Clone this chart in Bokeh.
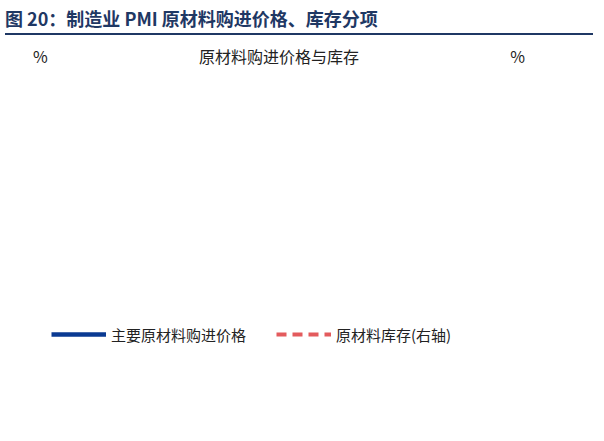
from bokeh.plotting import figure
from bokeh.models import Div, LinearAxis, Range1d, Legend, LegendItem, FixedTicker
from bokeh.layouts import column
from bokeh.embed import file_html
from bokeh.resources import INLINE

months = list(range(45))
year_ticks = [0, 12, 24, 36]
year_labels = ["2023", "2024", "2025", "2026"]
price = [52.0, 52.3, 54.5, 51.3, 47.4, 40.9, 44.9, 52.7, 56.4, 59.4, 52.7, 50.8,
         51.5, 50.5, 50.0, 50.5, 54.0, 57.0, 51.8, 49.8, 43.4, 45.1, 53.4, 49.5,
         48.2, 49.5, 50.8, 49.8, 47.0, 47.0, 48.3, 51.5, 53.3, 53.2, 52.5, 53.6,
         53.1, 56.2, 54.8, 64.1, 63.8, 60.6, 54.2, 53.2, 56.7]
stock = [48.09, 49.63, 49.77, 48.65, 48.02, 47.66, 47.42, 48.23, 48.40, 48.47, 48.23, 48.02,
         47.74, 47.59, 47.45, 48.09, 48.09, 47.81, 47.63, 47.74, 47.59, 47.74, 48.16, 48.23,
         48.30, 47.66, 47.03, 47.17, 47.03, 47.45, 48.02, 47.70, 47.98, 48.47, 47.31, 47.31,
         47.74, 47.45, 47.53, 47.74, 49.28, 48.58, 48.37, 48.30, 48.09]

FONT = "Noto Sans CJK SC"
AX = "#8EA9C8"

title = Div(text="图 20：制造业 PMI 原材料购进价格、库存分项", width=588, height=30,
            styles={"font-family": FONT, "font-size": "18px", "font-weight": "bold",
                    "color": "#1F3864", "border-bottom": "2px solid #1F3864",
                    "width": "588px", "padding-bottom": "2px", "line-height": "26px"})
sub = Div(text="<div style='display:flex;justify-content:space-between;width:550px;padding:0 30px 0 28px'>"
               "<span>%</span><span>原材料购进价格与库存</span><span>%</span></div>",
          width=588, height=26,
          styles={"font-family": FONT, "font-size": "16px", "color": "#222"})

p = figure(frame_width=457, frame_height=237, output_backend="svg", toolbar_location=None,
           x_range=Range1d(-0.3, 44.5), y_range=Range1d(40, 75),
           min_border_left=47, min_border_right=84, min_border_top=4, min_border_bottom=26)
p.extra_y_ranges = {"r": Range1d(45, 50)}
p.grid.visible = False
p.outline_line_color = None

b = p.line(months, price, line_color="#0A3A92", line_width=4.5)
r = p.line(months, stock, line_color="#E35B5D", line_width=4, line_dash="10 6", y_range_name="r")

ra = LinearAxis(y_range_name="r", ticker=FixedTicker(ticks=[45, 46, 47, 48, 49, 50]))
p.add_layout(ra, "right")
p.yaxis[0].ticker = FixedTicker(ticks=[40, 45, 50, 55, 60, 65, 70, 75])
p.xaxis.ticker = FixedTicker(ticks=year_ticks)
p.xaxis.major_label_overrides = {t: l for t, l in zip(year_ticks, year_labels)}
for ax in p.axis:
    ax.axis_line_color = AX
    ax.major_tick_line_color = AX
    ax.minor_tick_line_color = None
    ax.major_label_text_font = FONT
    ax.major_label_text_font_size = "15px"
    ax.major_label_text_color = "#222"
    ax.major_tick_in = 0
    ax.major_tick_out = 5

leg = Legend(items=[LegendItem(label="主要原材料购进价格", renderers=[b]),
                    LegendItem(label="原材料库存(右轴)", renderers=[r])],
             orientation="horizontal", spacing=30, border_line_color=None,
             background_fill_alpha=0,
             label_text_font=FONT, label_text_font_size="15px", label_text_color="#222",
             glyph_width=55, glyph_height=20, margin=4, padding=0, location="top_left")
p.add_layout(leg, "above")

foot = Div(text="资料来源：Wind，申万宏源研究", width=588, height=30,
           styles={"font-family": FONT, "font-size": "16px", "color": "#222",
                   "border-top": "1px solid #1F3864", "width": "588px", "padding-top": "4px"})

lay = column(title, sub, p, foot, spacing=0)
open("out.html", "w").write(file_html(lay, INLINE))
